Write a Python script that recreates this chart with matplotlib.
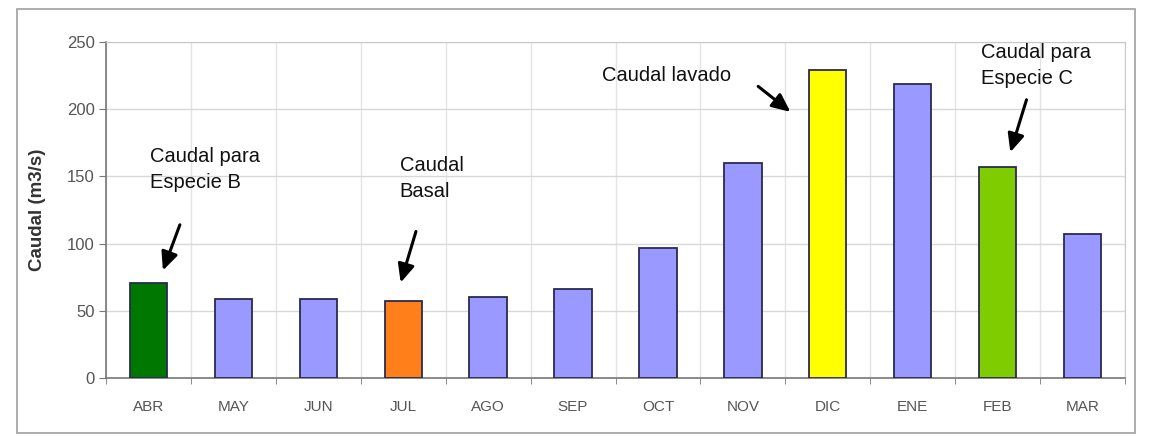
import matplotlib
matplotlib.use("Agg")
import matplotlib.pyplot as plt
from matplotlib.patches import Rectangle

plt.rcParams['font.family'] = ['Liberation Sans', 'DejaVu Sans']

months = ["ABR", "MAY", "JUN", "JUL", "AGO", "SEP", "OCT", "NOV", "DIC", "ENE", "FEB", "MAR"]
caudal = [71, 59, 59, 57, 60, 66, 97, 160, 229, 219, 157, 107]
bar_colors = ["#007800", "#9999FF", "#9999FF", "#FF7F1A", "#9999FF", "#9999FF",
              "#9999FF", "#9999FF", "#FFFF00", "#9999FF", "#7FCC00", "#9999FF"]
y_ticks = [0, 50, 100, 150, 200, 250]
y_label = "Caudal (m3/s)"

# annotation text, arrow tail and arrow head in data units
notes = [
    ("Caudal para\nEspecie B", (0.02, 172), (0.37, 114), (0.17, 80)),
    ("Caudal\nBasal", (2.96, 165), (3.15, 109), (2.97, 71)),
    ("Caudal lavado", (5.34, 232), (7.18, 217), (7.56, 198)),
    ("Caudal para\nEspecie C", (9.81, 249), (10.34, 207), (10.15, 168)),
]

fig = plt.figure(figsize=(11.61, 4.36), dpi=100)
fig.patch.set_facecolor("white")

# outer chart-area frame
fig.add_artist(Rectangle((17 / 1161, 1 - 433 / 436), (1135 - 17) / 1161, (433 - 9) / 436,
                         transform=fig.transFigure, fill=False, edgecolor="#A0A0A0", lw=1.2))

ax = fig.add_axes([106 / 1161, 1 - 378 / 436, (1125 - 106) / 1161, (378 - 42) / 436])
x = list(range(len(months)))
ax.bar(x, caudal, width=0.44, color=bar_colors, edgecolor="#2A2A50", linewidth=1.3, zorder=3)

ax.set_xlim(-0.5, len(months) - 0.5)
ax.set_ylim(0, 250)
ax.set_yticks(y_ticks)
ax.set_xticks(x)
ax.set_xticklabels(months)
ax.set_xticks([i + 0.5 for i in range(-1, len(months))], minor=True)

ax.grid(axis="y", color="#D8D8D8", lw=1.0, zorder=0)
ax.grid(axis="x", which="minor", color="#E4E4E4", lw=1.0, zorder=0)
ax.tick_params(axis="x", which="major", length=0, pad=16, labelsize=11, labelcolor="#555555")
ax.tick_params(axis="x", which="minor", length=4, color="#777777", direction="out")
ax.tick_params(axis="y", length=5, color="#777777", labelsize=12, labelcolor="#555555", pad=3)

for side in ["top", "right"]:
    ax.spines[side].set_color("#C8C8C8")
for side in ["left", "bottom"]:
    ax.spines[side].set_color("#777777")
    ax.spines[side].set_linewidth(1.2)

ax.set_ylabel(y_label, fontsize=13.5, fontweight="bold", color="#333333", labelpad=15)

for text, txy, tail, head in notes:
    ax.text(txy[0], txy[1], text, ha="left", va="top", fontsize=14.5, color="#111111",
            linespacing=1.45, clip_on=False)
    ax.annotate("", xy=head, xytext=tail, annotation_clip=False,
                arrowprops=dict(arrowstyle="-|>,head_length=1.1,head_width=0.5",
                                color="black", lw=2.2, shrinkA=0, shrinkB=0))

fig.savefig("out.png", dpi=100, facecolor="white")
